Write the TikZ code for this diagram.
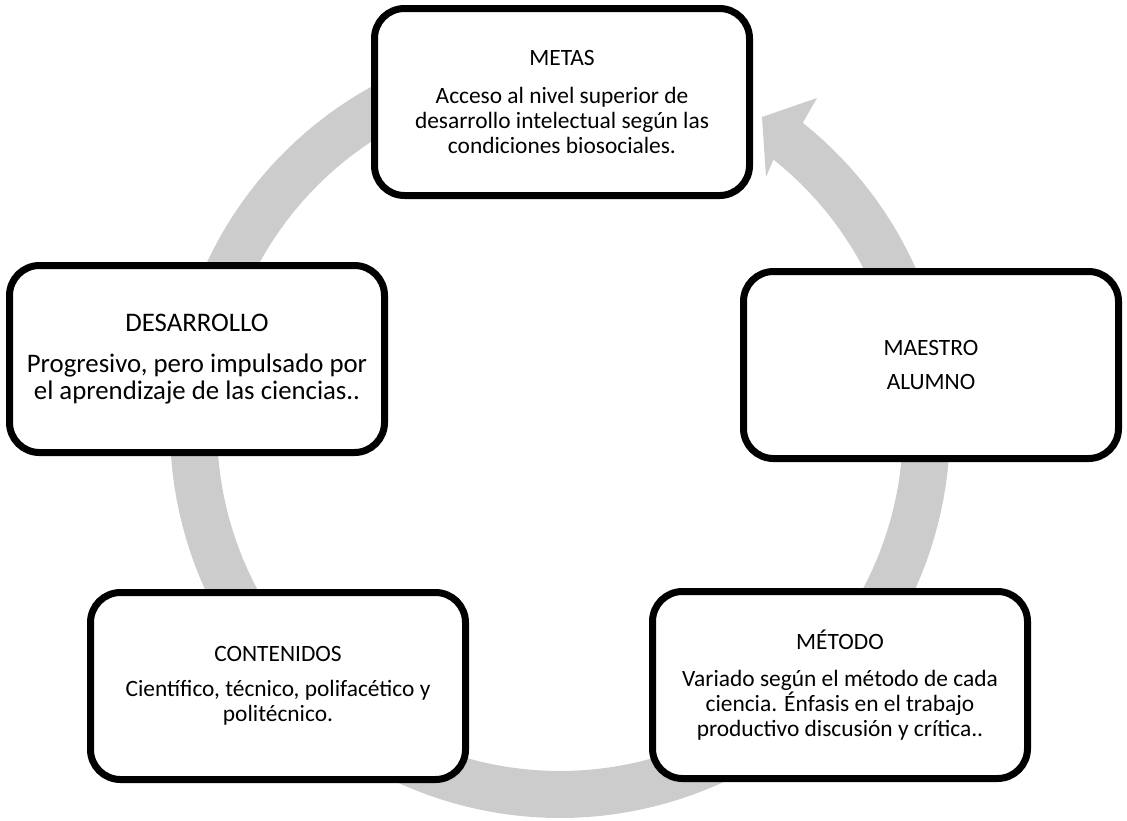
\documentclass[tikz,border=0pt]{standalone}
\usepackage{fontspec}
\setmainfont{Carlito}
\definecolor{ringgray}{HTML}{CCCCCC}
\begin{document}
\begin{tikzpicture}[x=1pt,y=-1pt,
  box/.style={draw=black, line width=7pt, rounded corners=30pt, fill=white,
    minimum width=375pt, minimum height=187pt, align=center, inner sep=0pt,
    font=\fontsize{23.4}{25}\selectfont},
  bigtext/.style={font=\fontsize{26.8}{27}\selectfont}]
\useasboundingbox (0,0) rectangle (1127,820);
% circular arrow ring
\fill[ringgray]
  plot[domain=-95:-411.5, samples=160, variable=\t] ({560+390*cos(\t)},{428+390*sin(\t)})
  -- (817,98) -- (762,117) -- (766,177)
  -- plot[domain=-411.5:-95, samples=160, variable=\t] ({560+343*cos(\t)},{428+343*sin(\t)})
  -- cycle;
% boxes
\node[box] (metas) at (562,102) {METAS\\[13pt]Acceso al nivel superior de\\desarrollo intelectual según las\\condiciones biosociales.};
\node[box, bigtext] (desarrollo) at (197,359) {DESARROLLO\\[14pt]Progresivo, pero impulsado por\\el aprendizaje de las ciencias..};
\node[box] (maestro) at (931,365) {MAESTRO\\[9pt]ALUMNO};
\node[box] (contenidos) at (278,686) {CONTENIDOS\\[10pt]Científico, técnico, polifacético y\\politécnico.};
\node[box] (metodo) at (840,685) {MÉTODO\\[12pt]Variado según el método de cada\\ciencia. Énfasis en el trabajo\\productivo discusión y crítica..};
\end{tikzpicture}
\end{document}
